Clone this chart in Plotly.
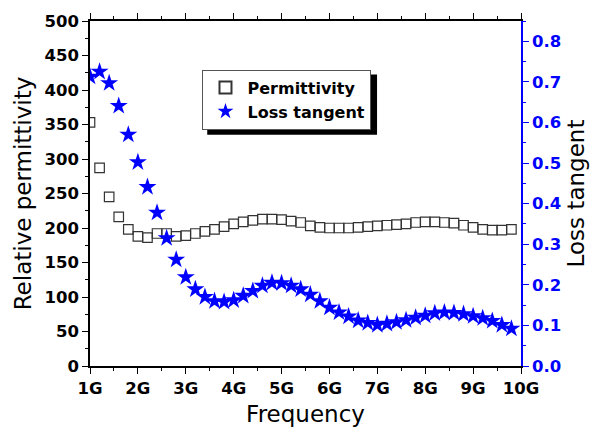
import plotly.graph_objects as go

freq = [1.0, 1.2, 1.4, 1.6, 1.8, 2.0, 2.2, 2.4, 2.6, 2.8, 3.0, 3.2, 3.4, 3.6, 3.8,
        4.0, 4.2, 4.4, 4.6, 4.8, 5.0, 5.2, 5.4, 5.6, 5.8, 6.0, 6.2, 6.4, 6.6, 6.8,
        7.0, 7.2, 7.4, 7.6, 7.8, 8.0, 8.2, 8.4, 8.6, 8.8, 9.0, 9.2, 9.4, 9.6, 9.8]

permittivity = [353, 287, 245, 216, 198, 188, 186, 192, 192, 188, 189, 192, 195, 198, 202,
                206, 209, 211, 213, 213, 212, 210, 208, 203, 201, 200, 200, 200, 201, 202,
                203, 204, 205, 206, 208, 209, 209, 208, 207, 204, 201, 198, 197, 197, 198]

loss_tangent = [0.713, 0.725, 0.697, 0.641, 0.570, 0.502, 0.441, 0.378, 0.315, 0.262,
                0.219, 0.189, 0.170, 0.160, 0.158, 0.162, 0.173, 0.185, 0.198, 0.205,
                0.204, 0.198, 0.189, 0.176, 0.160, 0.144, 0.132, 0.122, 0.112, 0.106,
                0.101, 0.104, 0.108, 0.113, 0.119, 0.124, 0.130, 0.132, 0.131, 0.128,
                0.123, 0.118, 0.111, 0.101, 0.092]

x_tickvals = [1, 2, 3, 4, 5, 6, 7, 8, 9, 10]
x_ticktext = ["1G", "2G", "3G", "4G", "5G", "6G", "7G", "8G", "9G", "10G"]

FONT = "DejaVu Sans, Liberation Sans, Arial, sans-serif"
BLUE = "#0000ff"
TICKSIZE = 16.5
TITLESIZE = 23

fig = go.Figure()
fig.add_trace(go.Scatter(
    x=freq, y=permittivity, mode="markers", name="Permittivity",
    marker=dict(symbol="square-open", size=9.5, color="#333333", line=dict(width=1.2, color="#333333")),
))
fig.add_trace(go.Scatter(
    x=freq, y=loss_tangent, mode="markers", name="Loss tangent", yaxis="y2",
    marker=dict(symbol="star", size=13.5, color=BLUE, line=dict(width=0)),
))

# legend shadow
fig.add_shape(type="rect", xref="paper", yref="paper",
              x0=0.272, x1=0.666, y0=0.670, y1=0.845,
              fillcolor="black", line=dict(width=0), layer="above")

fig.update_layout(
    width=597, height=435,
    margin=dict(l=90, r=70, t=20, b=67),
    paper_bgcolor="white", plot_bgcolor="white",
    font=dict(family=FONT, color="black"),
    showlegend=True,
    legend=dict(x=0.261, y=0.859, xanchor="left", yanchor="top",
                bgcolor="white", bordercolor="#555555", borderwidth=1,
                font=dict(size=16, family=FONT, color="black", weight="bold"),
                itemsizing="constant", tracegroupgap=0, itemwidth=34),
    xaxis=dict(
        range=[1, 10], tickvals=x_tickvals, ticktext=x_ticktext,
        showline=True, linecolor="black", linewidth=1.5, mirror="ticks",
        ticks="outside", ticklen=6, tickwidth=1.2, tickcolor="black",
        minor=dict(dtick=0.5, ticks="outside", ticklen=3, tickcolor="black", tickwidth=1),
        showgrid=False, zeroline=False,
        tickfont=dict(size=TICKSIZE, family=FONT, color="black", weight="bold"),
        title=dict(text="Frequency", font=dict(size=TITLESIZE, family=FONT), standoff=9),
    ),
    yaxis=dict(
        range=[0, 500], dtick=50,
        showline=True, linecolor="black", linewidth=1.5,
        ticks="outside", ticklen=6, tickwidth=1.2, tickcolor="black",
        minor=dict(dtick=25, ticks="outside", ticklen=3, tickcolor="black", tickwidth=1),
        showgrid=False, zeroline=False,
        tickfont=dict(size=TICKSIZE, family=FONT, color="black", weight="bold"),
        title=dict(text="Relative permittivity", font=dict(size=TITLESIZE, family=FONT), standoff=6),
    ),
    yaxis2=dict(
        range=[0, 0.85], dtick=0.1, tickformat=".1f",
        overlaying="y", side="right",
        showline=True, linecolor=BLUE, linewidth=1.5,
        ticks="outside", ticklen=6, tickwidth=1.2, tickcolor=BLUE,
        minor=dict(dtick=0.05, ticks="outside", ticklen=3, tickcolor=BLUE, tickwidth=1),
        showgrid=False, zeroline=False,
        tickfont=dict(size=TICKSIZE, family=FONT, color=BLUE, weight="bold"),
        title=dict(text="Loss tangent", font=dict(size=TITLESIZE, family=FONT, color="black"), standoff=8),
    ),
)

fig.write_html("out.html")
